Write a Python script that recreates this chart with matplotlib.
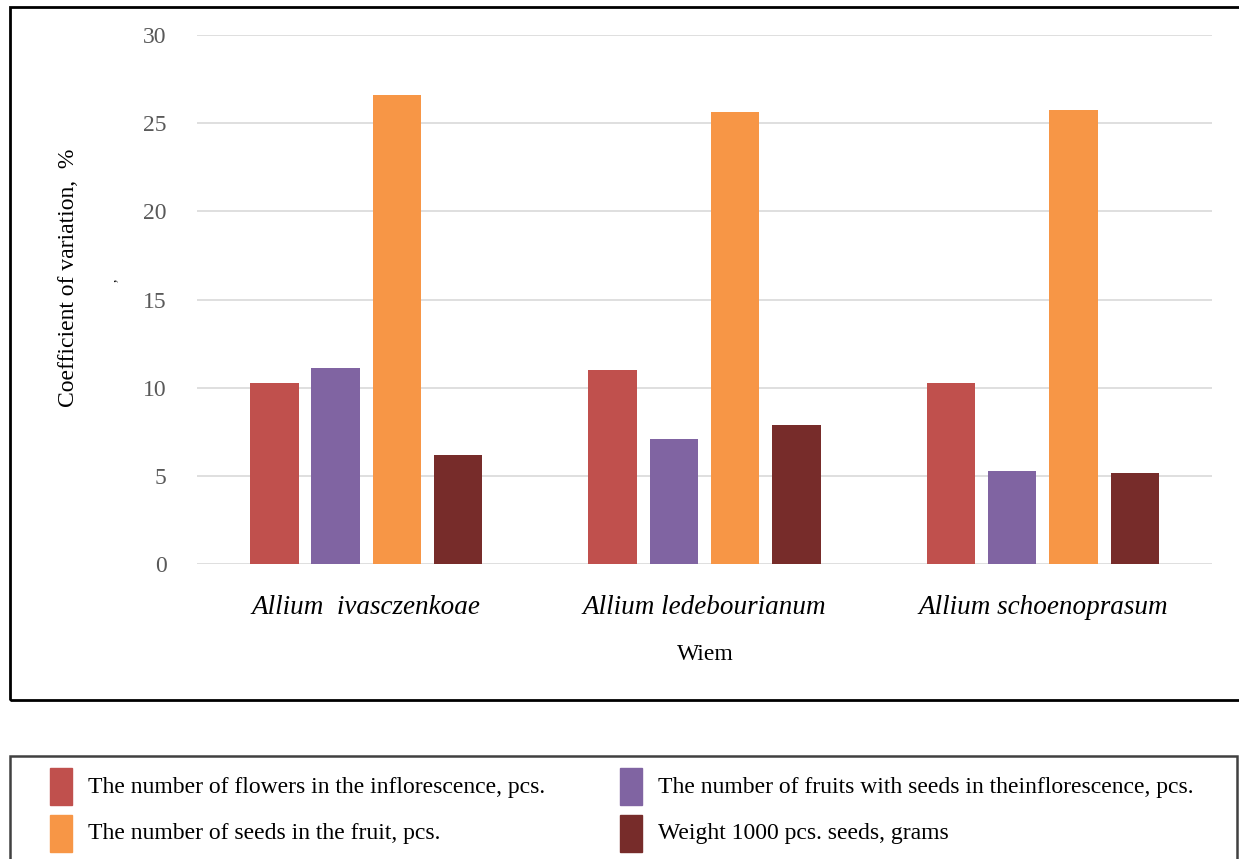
import numpy as np
import matplotlib
matplotlib.use('Agg')
import matplotlib.pyplot as plt
from matplotlib.patches import Rectangle

species = ['Allium  ivasczenkoae', 'Allium ledebourianum', 'Allium schoenoprasum']
series = ['The number of flowers in the inflorescence, pcs.',
          'The number of fruits with seeds in theinflorescence, pcs.',
          'The number of seeds in the fruit, pcs.',
          'Weight 1000 pcs. seeds, grams']
flowers = [10.25, 11.0, 10.25]
fruits = [11.1, 7.1, 5.27]
seeds = [26.6, 25.65, 25.75]
weight = [6.18, 7.88, 5.16]
colors = ['#c0504d', '#8064a2', '#f79646', '#772c2a']
yticks = [0, 5, 10, 15, 20, 25, 30]

W, H = 1239, 859
fig = plt.figure(figsize=(W / 100, H / 100), dpi=100)

def fx(px):
    return px / W

def fy(py):
    return 1 - py / H

ax = fig.add_axes([fx(197), fy(564), fx(1212) - fx(197), fy(35) - fy(564)])
x = np.arange(len(species))
width = 0.143
step = 0.181
vals = [flowers, fruits, seeds, weight]
for i, v in enumerate(vals):
    ax.bar(x + (i - 1.5) * step, v, width, color=colors[i], label=series[i], zorder=3)

ax.set_xlim(-0.5, 2.5)
ax.set_ylim(0, 30)
ax.set_yticks(yticks)
ax.set_yticklabels([str(t) for t in yticks], family='Liberation Serif', fontsize=17, color='#595959')
ax.yaxis.grid(True, color='#d9d9d9', lw=1.2, zorder=0)
ax.tick_params(axis='y', length=0, pad=22)
ax.set_xticks(x)
ax.set_xticklabels(species, family='Liberation Serif', style='italic', fontsize=19.5)
ax.tick_params(axis='x', length=0, pad=22)
for s in ax.spines.values():
    s.set_visible(False)

fig.text(fx(68), fy(278), 'Coefficient of variation,  %', rotation=90, ha='center', va='center',
         family='Liberation Serif', fontsize=17)
fig.text(fx(112), fy(280), ',', rotation=90, ha='center', va='center',
         family='Liberation Serif', fontsize=10)
fig.text(fx(705), fy(655), 'Wiem', ha='center', va='center',
         family='Liberation Serif', fontsize=17)

# outer frame of chart
fig.patches.append(Rectangle((fx(10), fy(700)), fx(1250) - fx(10), fy(7) - fy(700),
                             transform=fig.transFigure, fill=False, ec='black', lw=2))

# legend box
fig.patches.append(Rectangle((fx(10), fy(880)), fx(1237) - fx(10), fy(756) - fy(880),
                             transform=fig.transFigure, fill=False, ec='#404040', lw=1.8))
pos = [(50, 768), (620, 768), (50, 815), (620, 815)]
for i, (px, py) in enumerate(pos):
    fig.patches.append(Rectangle((fx(px), fy(py + 37)), fx(22), fy(0) - fy(37),
                                 transform=fig.transFigure, color=colors[i]))
    fig.text(fx(px + 38), fy(py + 19), series[i], ha='left', va='center',
             family='Liberation Serif', fontsize=17)

fig.savefig('out.png', dpi=100)
